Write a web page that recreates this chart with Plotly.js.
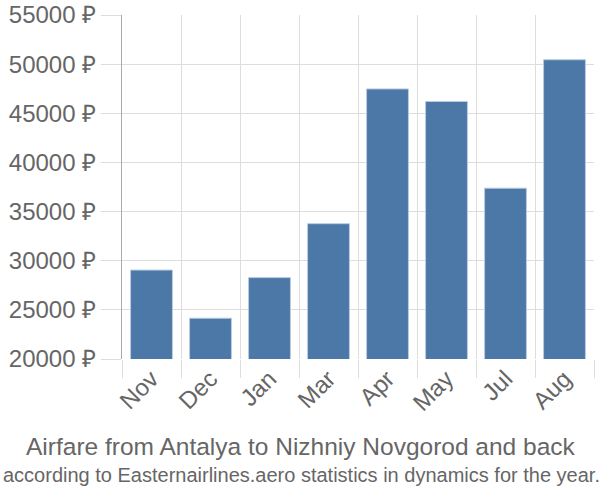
<!DOCTYPE html>
<html><head><meta charset="utf-8">
<script src="https://cdn.plot.ly/plotly-3.0.1.min.js"></script>
<style>html,body{margin:0;padding:0;background:#fff}#c{width:600px;height:500px}</style>
</head><body><div id="c"></div>
<script>
const months = ["Nov","Dec","Jan","Mar","Apr","May","Jul","Aug"];
const prices = [29050, 24150, 28280, 33770, 47480, 46200, 37380, 50450];
const yTicks = [20000,25000,30000,35000,40000,45000,50000,55000];
const titleLine1 = "Airfare from Antalya to Nizhniy Novgorod and back";
const titleLine2 = "according to Easternairlines.aero statistics in dynamics for the year.";

const font = "Liberation Sans, Arial, sans-serif";
Plotly.newPlot("c", [{
  type: "bar", x: months, y: prices,
  marker: {color: "#4c78a8", line: {color: "#b9cbe0", width: 1}},
  hoverinfo: "x+y"
}], {
  width: 600, height: 500,
  margin: {l: 122, r: 6, t: 15, b: 141},
  bargap: 0.29,
  paper_bgcolor: "#fff", plot_bgcolor: "#fff",
  showlegend: false,
  xaxis: {
    type: "category", tickson: "boundaries", ticks: "outside", ticklen: 18,
    tickcolor: "#ddd", showgrid: true, gridcolor: "#ddd", gridwidth: 1,
    tickangle: -45, tickfont: {family: font, size: 24, color: "#666"},
    showline: false, zeroline: false
  },
  yaxis: {
    range: [20000, 55000], tickvals: yTicks, ticktext: yTicks.map(v => v + " ₽"),
    ticks: "outside", ticklen: 20, tickcolor: "#ddd",
    showgrid: true, gridcolor: "#ddd", gridwidth: 1,
    tickfont: {family: font, size: 24, color: "#666"},
    showline: true, linecolor: "#aaa", linewidth: 1, zeroline: false
  },
  annotations: [
    {text: titleLine1, xref: "paper", yref: "paper", x: 0.5, xanchor: "center",
     y: -0.253, yanchor: "middle", xshift: -122/2 + 6/2 + 1, showarrow: false,
     font: {family: font, size: 24.5, color: "#666"}},
    {text: titleLine2, xref: "paper", yref: "paper", x: 0.5, xanchor: "center",
     y: -0.337, yanchor: "middle", xshift: -122/2 + 6/2 + 1, showarrow: false,
     font: {family: font, size: 20, color: "#666"}}
  ]
}, {displayModeBar: false, staticPlot: true});
</script></body></html>
